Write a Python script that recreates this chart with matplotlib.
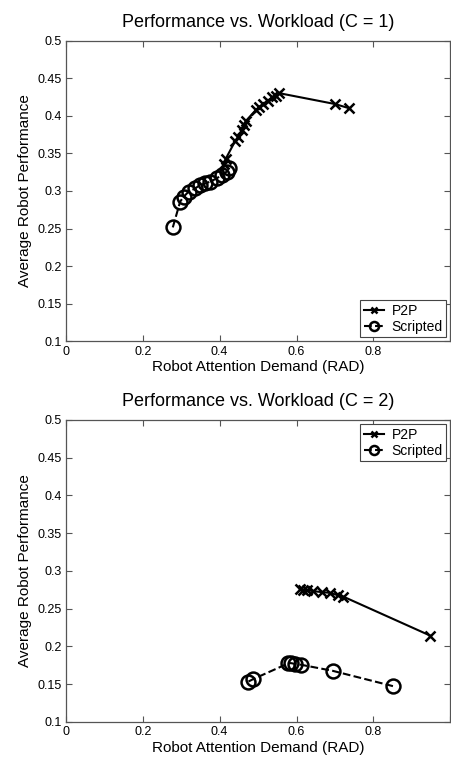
import matplotlib
matplotlib.use("Agg")
import matplotlib.pyplot as plt

plt.rcParams['font.family'] = ['Liberation Sans', 'DejaVu Sans']

# C = 1
p2p_x1 = [0.41, 0.416, 0.44, 0.448, 0.458, 0.463, 0.468, 0.494, 0.503, 0.514, 0.525, 0.536, 0.547, 0.555, 0.70, 0.737]
p2p_y1 = [0.336, 0.343, 0.366, 0.372, 0.381, 0.388, 0.393, 0.4076, 0.412, 0.4156, 0.420, 0.4245, 0.4266, 0.430, 0.4156, 0.410]
scr_x1 = [0.278, 0.297, 0.306, 0.319, 0.336, 0.349, 0.362, 0.375, 0.392, 0.405, 0.418, 0.423]
scr_y1 = [0.2516, 0.2857, 0.2923, 0.299, 0.3034, 0.3078, 0.310, 0.3123, 0.3167, 0.3211, 0.3256, 0.330]

# C = 2
p2p_x2 = [0.609, 0.617, 0.627, 0.644, 0.666, 0.6875, 0.709, 0.722, 0.948]
p2p_y2 = [0.2755, 0.275, 0.2746, 0.2733, 0.272, 0.2711, 0.2676, 0.266, 0.2144]
scr_x2 = [0.475, 0.488, 0.578, 0.585, 0.596, 0.612, 0.694, 0.851]
scr_y2 = [0.1536, 0.157, 0.1775, 0.178, 0.177, 0.1758, 0.1678, 0.1475]

xticks = [0, 0.2, 0.4, 0.6, 0.8, 1.0]
xlabels = ["0", "0.2", "0.4", "0.6", "0.8", ""]
yticks = [0.1, 0.15, 0.2, 0.25, 0.3, 0.35, 0.4, 0.45, 0.5]
ylabels = ["0.1", "0.15", "0.2", "0.25", "0.3", "0.35", "0.4", "0.45", "0.5"]

fig = plt.figure(figsize=(4.52, 7.6), dpi=100)
ax1 = fig.add_axes([0.146, 0.5507, 0.85, 0.396])
ax2 = fig.add_axes([0.146, 0.05, 0.85, 0.3974])

panels = [
    (ax1, p2p_x1, p2p_y1, scr_x1, scr_y1, "Performance vs. Workload (C = 1)", "lower right", 10),
    (ax2, p2p_x2, p2p_y2, scr_x2, scr_y2, "Performance vs. Workload (C = 2)", "upper right", 10),
]

for ax, px, py, sx, sy, title, loc, ms in panels:
    ax.plot(px, py, color="black", linestyle="-", linewidth=1.5, marker="x",
            markersize=7, markeredgewidth=1.8, label="P2P")
    ax.plot(sx, sy, color="black", linestyle="--", linewidth=1.5, marker="o",
            markersize=ms, markerfacecolor="none", markeredgewidth=1.8,
            label="Scripted")
    ax.set_xlim(0, 1)
    ax.set_ylim(0.1, 0.5)
    ax.set_xticks(xticks)
    ax.set_xticklabels(xlabels)
    ax.set_yticks(yticks)
    ax.set_yticklabels(ylabels)
    ax.tick_params(direction="in", top=True, right=True, labelsize=9,
                   length=4, width=0.8, color="#555555", pad=3)
    for s in ax.spines.values():
        s.set_color("#555555")
        s.set_linewidth(0.9)
    ax.set_title(title, fontsize=13, pad=10)
    ax.set_xlabel("Robot Attention Demand (RAD)", fontsize=11, labelpad=2)
    ax.set_ylabel("Average Robot Performance", fontsize=11, labelpad=4)
    leg = ax.legend(loc=loc, fontsize=10, fancybox=False, framealpha=1,
                    edgecolor="#444444", handlelength=1.5, handletextpad=0.5,
                    borderpad=0.25, labelspacing=0.15, borderaxespad=0.3,
                    markerscale=0.65)
    leg.get_frame().set_linewidth(0.8)

plt.savefig("out.png", dpi=100)
